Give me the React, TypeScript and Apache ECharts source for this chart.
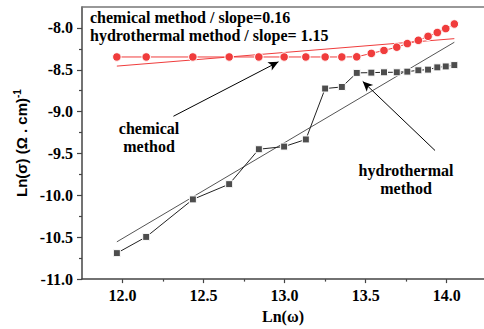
import React, { useEffect, useRef } from 'react';
import * as echarts from 'echarts';

// ln(omega) values (shared by both series)
const lnW = [11.965, 12.146, 12.434, 12.658, 12.841, 12.997, 13.131, 13.25, 13.353, 13.445, 13.535, 13.613, 13.692, 13.757, 13.825, 13.885, 13.942, 13.994, 14.047];
// chemical method ln(sigma)
const chemY = [-8.347, -8.347, -8.347, -8.347, -8.347, -8.347, -8.347, -8.347, -8.347, -8.345, -8.304, -8.269, -8.23, -8.187, -8.148, -8.10, -8.055, -8.008, -7.953];
// hydrothermal method ln(sigma)
const hydroY = [-10.69, -10.496, -10.048, -9.866, -9.449, -9.417, -9.332, -8.724, -8.705, -8.537, -8.534, -8.53, -8.53, -8.522, -8.506, -8.498, -8.471, -8.46, -8.444];
// linear fits
const fitX = [11.965, 14.047];
const chemFit = [-8.456, -8.128];
const hydroFit = [-10.555, -8.171];
// arrows [tail, head]
const arrowChem = [[12.314, -9.055], [12.962, -8.405]];
const arrowHydro = [[13.928, -9.464], [13.482, -8.639]];
// ticks
const xTicks = [12, 12.5, 13, 13.5, 14];
const xMinor = [12.25, 12.75, 13.25, 13.75];
const yTicks = [-11, -10.5, -10, -9.5, -9, -8.5, -8];
const yMinor = [-10.75, -10.25, -9.75, -9.25, -8.75, -8.25];

const SERIF = 'Liberation Serif';
const SANS = 'Liberation Sans';

export default function App() {
  const ref = useRef<HTMLDivElement>(null);
  useEffect(() => {
    document.body.style.margin = '0';
    const chart = echarts.init(ref.current!, null, { renderer: 'svg' });
    const xr = { min: 11.75, max: 14.23 };
    const yr = { min: -11, max: -7.75 };
    const axisLine = { show: true, lineStyle: { color: '#444', width: 1.5 } };
    const annot = { fontFamily: SERIF, fontWeight: 'bold', fontSize: 16, fill: '#000' };
    chart.setOption({
      animation: false,
      grid: { left: 82, top: 7, right: 0, bottom: 44 },
      xAxis: [
        {
          type: 'value', ...xr, position: 'bottom',
          axisLine,
          splitLine: { show: false },
          axisTick: { show: true, length: 4, customValues: xTicks, lineStyle: { color: '#444', width: 1.2 } },
          axisLabel: {
            customValues: xTicks, margin: 8,
            formatter: (v: number) => v.toFixed(1),
            fontFamily: SERIF, fontWeight: 'bold', fontSize: 16, color: '#000',
          },
          name: 'Ln(ω)', nameLocation: 'middle', nameGap: 27,
          nameTextStyle: { fontFamily: SERIF, fontWeight: 'bold', fontSize: 16, color: '#000' },
        },
        {
          type: 'value', ...xr, position: 'bottom',
          axisLine: { show: false }, splitLine: { show: false },
          axisTick: { show: true, length: 2.5, customValues: xMinor, lineStyle: { color: '#444', width: 1.2 } },
          axisLabel: { show: false },
        },
        {
          type: 'value', ...xr, position: 'top',
          axisLine: { show: true, lineStyle: { color: '#777', width: 1.5 } },
          splitLine: { show: false }, axisTick: { show: false }, axisLabel: { show: false },
        },
      ],
      yAxis: [
        {
          type: 'value', ...yr, position: 'left',
          axisLine,
          splitLine: { show: false },
          axisTick: { show: true, length: 5, customValues: yTicks, lineStyle: { color: '#444', width: 1.2 } },
          axisLabel: {
            customValues: yTicks, margin: 9,
            formatter: (v: number) => v.toFixed(1),
            fontFamily: SERIF, fontWeight: 'bold', fontSize: 16, color: '#000',
          },
          name: '{a|Ln(σ) (Ω . cm)}{b|-1}', nameLocation: 'middle', nameGap: 50,
          nameTextStyle: {
            rich: {
              a: { fontFamily: SANS, fontWeight: 'bold', fontSize: 15, color: '#000', lineHeight: 18 },
              b: { fontFamily: SANS, fontWeight: 'bold', fontSize: 10, color: '#000', verticalAlign: 'top', lineHeight: 18 },
            },
          },
        },
        {
          type: 'value', ...yr, position: 'left',
          axisLine: { show: false }, splitLine: { show: false },
          axisTick: { show: true, length: 3, customValues: yMinor, lineStyle: { color: '#444', width: 1.2 } },
          axisLabel: { show: false },
        },
      ],
      series: [
        {
          type: 'line', name: 'chemFit', data: fitX.map((x, i) => [x, chemFit[i]]),
          showSymbol: false, symbol: 'none', lineStyle: { color: '#f03c3c', width: 1 },
          markLine: {
            silent: true, symbol: ['none', 'arrow'], symbolSize: [7, 10],
            label: { show: false },
            lineStyle: { color: '#000', width: 1, type: 'solid' },
            data: [
              [{ coord: arrowChem[0] }, { coord: arrowChem[1] }],
              [{ coord: arrowHydro[0] }, { coord: arrowHydro[1] }],
            ],
          },
        },
        {
          type: 'line', name: 'hydroFit', data: fitX.map((x, i) => [x, hydroFit[i]]),
          showSymbol: false, symbol: 'none', lineStyle: { color: '#555', width: 1 },
        },
        {
          type: 'line', name: 'chemical', data: lnW.map((x, i) => [x, chemY[i]]),
          symbol: 'circle', symbolSize: 8.5,
          itemStyle: { color: '#f03c3c', borderColor: '#fff', borderWidth: 1 },
          lineStyle: { color: '#f03c3c', width: 1 },
        },
        {
          type: 'line', name: 'hydrothermal', data: lnW.map((x, i) => [x, hydroY[i]]),
          symbol: 'rect', symbolSize: 7,
          itemStyle: { color: '#4d4d4d', borderColor: '#fff', borderWidth: 1 },
          lineStyle: { color: '#222', width: 1 },
        },
      ],
      graphic: [
        {
          type: 'text', x: 90, y: 17,
          style: { ...annot, text: 'chemical method / slope=0.16', verticalAlign: 'middle' },
        },
        {
          type: 'text', x: 90, y: 35,
          style: { ...annot, text: 'hydrothermal method / slope= 1.15', verticalAlign: 'middle' },
        },
        {
          type: 'text', x: 149, y: 137,
          style: { ...annot, text: 'chemical\nmethod', align: 'center', verticalAlign: 'middle', lineHeight: 18 },
        },
        {
          type: 'text', x: 406, y: 179,
          style: { ...annot, text: 'hydrothermal\nmethod', align: 'center', verticalAlign: 'middle', lineHeight: 18 },
        },
      ],
    });
    return () => chart.dispose();
  }, []);
  return <div ref={ref} style={{ width: 484, height: 329 }} />;
}
